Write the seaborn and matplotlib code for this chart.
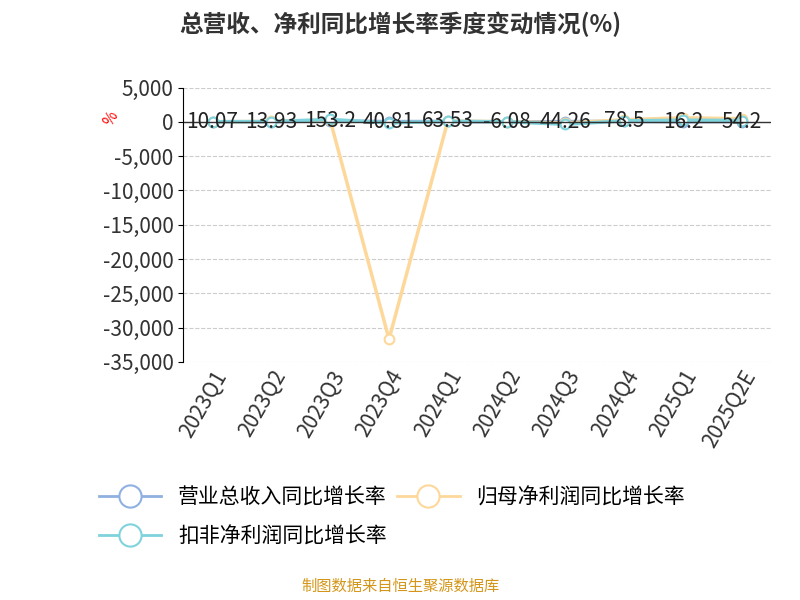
import matplotlib.pyplot as plt
import seaborn as sns
import pandas as pd

plt.rcParams['font.family'] = 'Noto Sans CJK SC'
plt.rcParams['axes.unicode_minus'] = False

quarters = ['2023Q1', '2023Q2', '2023Q3', '2023Q4', '2024Q1', '2024Q2', '2024Q3', '2024Q4', '2025Q1', '2025Q2E']
revenue = [10.07, 13.93, 153.2, 40.81, 63.53, -6.08, 44.26, 78.5, 16.2, 54.2]
net_profit = [20, 60, 250, -31700, 120, 30, -150, 300, 600, 450]
deducted = [30, 50, 350, -150, 80, 20, -350, 150, 250, 200]

names = ['营业总收入同比增长率', '归母净利润同比增长率', '扣非净利润同比增长率']
colors = ['#8fb0e0', '#fdd89a', '#7fd3dc']

fig = plt.figure(figsize=(8, 6), dpi=100)
ax = fig.add_axes([0.229, 0.397, 0.735, 0.457])
handles = []
for n, vals, c in zip(names, [revenue, net_profit, deducted], colors):
    d = pd.DataFrame({'x': range(len(quarters)), 'v': vals})
    sns.lineplot(data=d, x='x', y='v', color=c, linewidth=2.5, ax=ax, label=n)
    ax.plot(d['x'], d['v'], 'o', color=c, markerfacecolor='white', markersize=7, markeredgewidth=1.5)
    handles.append(plt.Line2D([], [], color=c, lw=2, marker='o', markersize=16,
                              markerfacecolor='white', markeredgewidth=1.5))

for i, v in enumerate(revenue):
    ax.text(i, v, f'{v:g}', ha='center', va='center', fontsize=15, color='#222')

ax.set_ylim(-35000, 5000)
ax.set_yticks(range(-35000, 5001, 5000))
ax.set_yticklabels([f'{t:,}' for t in range(-35000, 5001, 5000)], fontsize=15, color='#333')
ax.set_xlim(-0.5, len(quarters) - 0.5)
ax.set_xticks(range(len(quarters)))
ax.set_xticklabels(quarters, rotation=60, ha='right', rotation_mode='anchor', fontsize=15, color='#333')
ax.grid(axis='y', linestyle='--', color='#ccc')
ax.set_xlabel('')
ax.set_ylabel('%', color='red', fontsize=11, rotation=60)
ax.yaxis.set_label_coords(-0.11, 0.87)
for s in ['top', 'right', 'bottom']:
    ax.spines[s].set_visible(False)
ax.axhline(0, color='#333', lw=1)
ax.tick_params(axis='x', length=0)
ax.legend_.remove()

fig.legend([handles[0], handles[2], handles[1]], [names[0], names[2], names[1]],
           loc='upper left', bbox_to_anchor=(0.1, 0.22), ncol=2, frameon=False,
           fontsize=15, handlelength=3, columnspacing=0.5, labelspacing=0.8)

fig.suptitle('总营收、净利同比增长率季度变动情况(%)', fontsize=17, fontweight='bold', y=0.98, color='#333')
fig.text(0.5, 0.015, '制图数据来自恒生聚源数据库', ha='center', fontsize=11, color='#d4961a')
fig.savefig('out.png')
